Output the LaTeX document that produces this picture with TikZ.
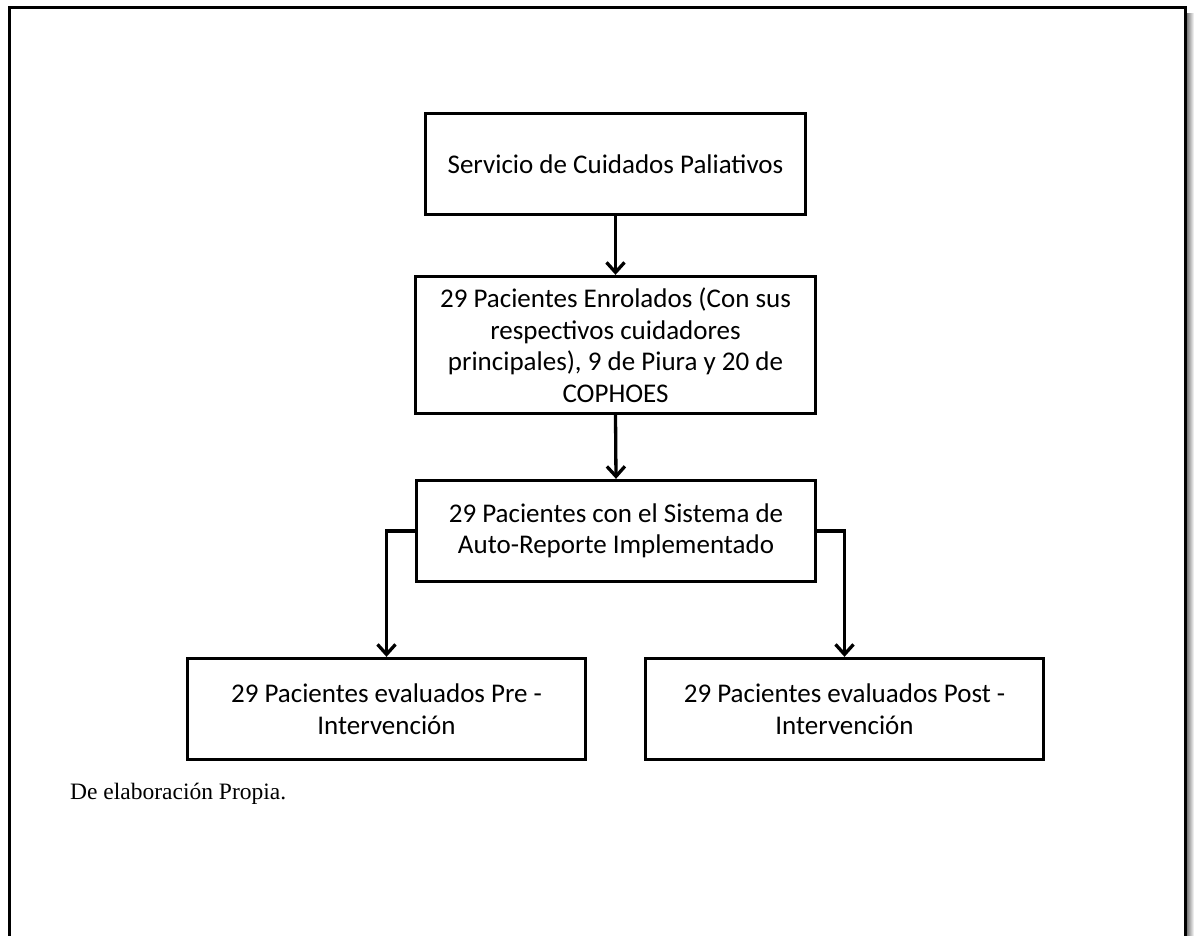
\documentclass[tikz,border=0pt]{standalone}
\usepackage{fontspec}
\setmainfont{Carlito}
\newfontfamily\serifnote{Liberation Serif}
\usetikzlibrary{arrows.meta}
\begin{document}
\begin{tikzpicture}[x=1pt,y=-1pt,
  box/.style={draw, line width=3.3pt, align=center, inner sep=0pt,
    minimum height=101pt, font=\fontsize{27}{31.5}\selectfont},
  arr/.style={line width=3.3pt, -{Straight Barb[length=10pt,width=18pt,line width=3.3pt]}},
  frame/.style={line width=3pt}]
\useasboundingbox (0,0) rectangle (1194,936);
\shade[left color=black!55, right color=white] (1186.5,14) rectangle (1194,936);
\draw[frame] (9,936) -- (9,8) -- (1185,8) -- (1185,936);
\node[box, minimum width=380pt] (b1) at (615.5,164) {Servicio de Cuidados Paliativos};
\node[box, minimum width=400pt, minimum height=137pt] (b2) at (615.5,345)
  {29 Pacientes Enrolados (Con sus\\respectivos cuidadores\\principales), 9 de Piura y 20 de\\COPHOES};
\node[box, minimum width=399pt] (b3) at (616,531)
  {29 Pacientes con el Sistema de\\Auto-Reporte Implementado};
\node[box, minimum width=398pt] (b4) at (386.5,709)
  {29 Pacientes evaluados Pre -\\Intervención};
\node[box, minimum width=398pt] (b5) at (844.5,709)
  {29 Pacientes evaluados Post -\\Intervención};
\node[anchor=base west, inner sep=0pt, font=\serifnote\fontsize{23.5}{28}\selectfont] (src) at (70,799) {De elaboración Propia.};
\draw[arr] (b1.south) -- (b2.north);
\draw[arr] (b2.south) -- (b3.north);
\draw[arr] (b3.west) -| (b4.north);
\draw[arr] (b3.east) -| (b5.north);
\end{tikzpicture}
\end{document}
